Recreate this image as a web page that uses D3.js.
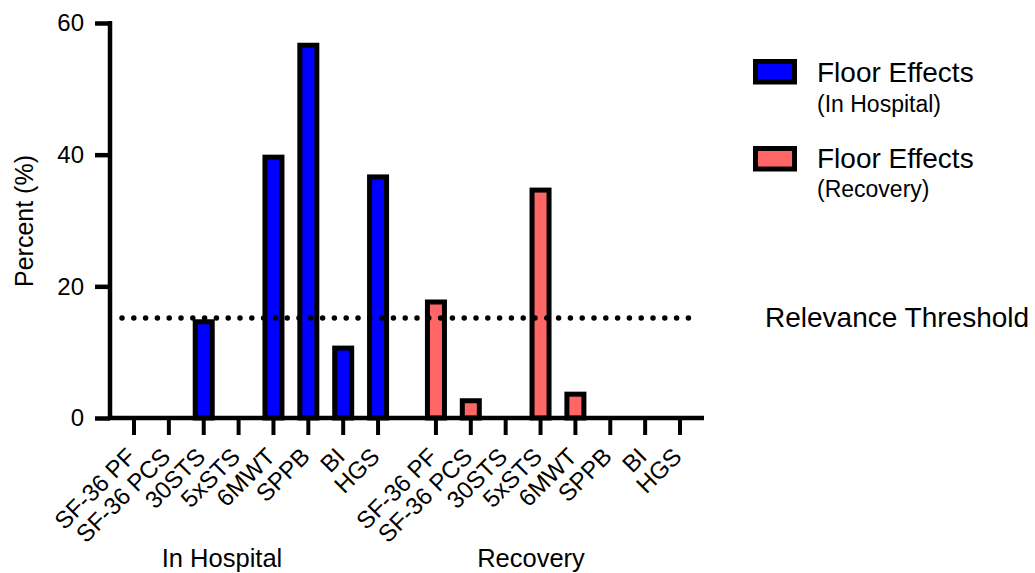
<!DOCTYPE html>
<html>
<head>
<meta charset="utf-8">
<script src="https://cdn.jsdelivr.net/npm/d3@7"></script>
<style>
  html, body { margin: 0; padding: 0; background: #fff; }
  svg { display: block; font-family: "Liberation Sans", Arial, sans-serif; }
</style>
</head>
<body>
<svg id="chart" width="1035" height="573"></svg>
<script>
const categories = ["SF-36 PF", "SF-36 PCS", "30STS", "5xSTS", "6MWT", "SPPB", "BI", "HGS"];
const groups = ["In Hospital", "Recovery"];
const inHospital = [0, 0, 15, 0, 40, 57, 11, 37];
const recovery = [18, 3, 0, 35, 4, 0, 0, 0];
const seriesNames = ["Floor Effects", "Floor Effects"];
const seriesSub = ["(In Hospital)", "(Recovery)"];
const colors = ["#0000FF", "#FF6666"];
const threshold = 15.2;
const yTicks = [0, 20, 40, 60];
const thresholdLabel = "Relevance Threshold";
const yTitle = "Percent (%)";

const svg = d3.select("#chart");
const groupGap = 0.66;
const slot = (g, i) => g * (categories.length + groupGap) + i;
const x = d3.scaleLinear().domain([0, slot(1, categories.length - 1)]).range([134, 680]);
const y = d3.scaleLinear().domain([0, 60]).range([418, 23]);

const data = [];
[inHospital, recovery].forEach((arr, g) => arr.forEach((v, i) => data.push({g, i, v, cat: categories[i]})));

// bars
const bw = 17, sw = 5;
svg.append("g").selectAll("rect").data(data.filter(d => d.v > 0)).join("rect")
  .attr("x", d => x(slot(d.g, d.i)) - bw / 2)
  .attr("y", d => y(d.v) + sw / 2)
  .attr("width", bw)
  .attr("height", d => y(0) - y(d.v) - sw / 2)
  .attr("fill", d => colors[d.g])
  .attr("stroke", "#000")
  .attr("stroke-width", sw);

// threshold line
svg.append("line")
  .attr("x1", 122).attr("x2", 697)
  .attr("y1", y(threshold)).attr("y2", y(threshold))
  .attr("stroke", "#000").attr("stroke-width", 5.5)
  .attr("stroke-linecap", "round")
  .attr("stroke-dasharray", "0 11.8");

// y axis
const yAxis = d3.axisLeft(y).tickValues(yTicks).tickSize(15).tickPadding(11).tickFormat(d3.format("d"));
const gy = svg.append("g").attr("transform", "translate(110,0)").call(yAxis);
gy.select(".domain").attr("d", `M0,${y(60) - 2}V${y(0)}`).attr("stroke-width", 4.5).attr("stroke", "#000");
gy.selectAll(".tick line").attr("stroke-width", 4.5);
gy.selectAll(".tick text").attr("font-size", 24).attr("fill", "#000").attr("font-family", "Liberation Sans, Arial, sans-serif");

// x axis
const gx = svg.append("g").attr("transform", `translate(0,${y(0)})`);
gx.append("line").attr("x1", 108).attr("x2", 704).attr("y1", 0).attr("y2", 0)
  .attr("stroke", "#000").attr("stroke-width", 4.5);
const tickData = data;
gx.selectAll("line.tk").data(tickData).join("line").attr("class", "tk")
  .attr("x1", d => x(slot(d.g, d.i))).attr("x2", d => x(slot(d.g, d.i)))
  .attr("y1", 0).attr("y2", 17)
  .attr("stroke", "#000").attr("stroke-width", 4);
gx.selectAll("text.tl").data(tickData).join("text").attr("class", "tl")
  .attr("transform", d => `translate(${x(slot(d.g, d.i)) - 9},${28}) rotate(-45)`)
  .attr("text-anchor", "end")
  .attr("dy", "0.71em")
  .attr("font-size", 24)
  .text(d => d.cat);

// group labels
svg.selectAll("text.grp").data(groups).join("text").attr("class", "grp")
  .attr("x", (d, g) => g === 0 ? 222 : 531)
  .attr("y", 567)
  .attr("text-anchor", "middle")
  .attr("font-size", 25.5)
  .text(d => d);

// y title
svg.append("text")
  .attr("transform", "translate(33,221) rotate(-90)")
  .attr("text-anchor", "middle")
  .attr("font-size", 25)
  .text(yTitle);

// legend
const lg = svg.append("g");
colors.forEach((c, k) => {
  const top = 61.5 + k * 87;
  lg.append("rect").attr("x", 755.5).attr("y", top).attr("width", 39).attr("height", 20.5)
    .attr("fill", c).attr("stroke", "#000").attr("stroke-width", 5);
  lg.append("text").attr("x", 817).attr("y", 81.5 + k * 86).attr("font-size", 28).text(seriesNames[k]);
  lg.append("text").attr("x", 817).attr("y", 111.5 + k * 85.5).attr("font-size", 23).text(seriesSub[k]);
});
svg.append("text").attr("x", 765).attr("y", 327).attr("font-size", 28).text(thresholdLabel);
</script>
</body>
</html>
